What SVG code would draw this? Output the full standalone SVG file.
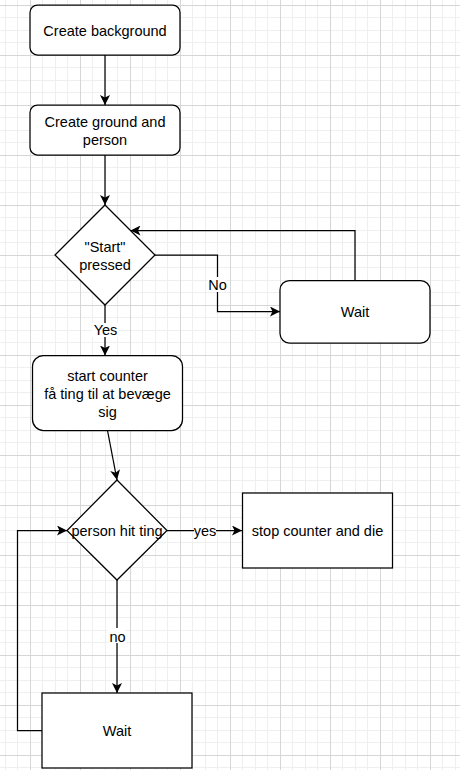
<svg xmlns="http://www.w3.org/2000/svg" width="460" height="770" viewBox="0 0 460 770">
  <defs>
    <pattern id="grid" patternUnits="userSpaceOnUse" x="30" y="5" width="50" height="50">
      <path d="M12.5 0V50M25.5 0V50M37.5 0V50M0 12.5H50M0 25.5H50M0 37.5H50" stroke="#efefef" stroke-width="1" fill="none"/>
      <path d="M0.5 0V50M0 0.5H50" stroke="#d6d6d6" stroke-width="1" fill="none"/>
    </pattern>
    <marker id="arr" markerUnits="userSpaceOnUse" viewBox="0 0 10 10" refX="10" refY="5" markerWidth="10" markerHeight="10" orient="auto">
      <path d="M0 0L10 5L0 10L2.5 5Z" fill="#000"/>
    </marker>
  </defs>
  <style>
    .shape { fill: #fff; stroke: #000; stroke-width: 1.25; }
    .edge { fill: none; stroke: #000; stroke-width: 1.25; marker-end: url(#arr); }
    text { font-family: "Liberation Sans", Arial, sans-serif; font-size: 14.5px; fill: #000; text-anchor: middle; }
    .lblbg { fill: #fff; }
  </style>
  <rect x="0" y="0" width="460" height="770" fill="#fff"/>
  <rect x="0" y="0" width="460" height="770" fill="url(#grid)"/>

  <g id="connectors">
    <path class="edge" d="M105 55V105"/>
    <path class="edge" d="M105 155V205"/>
    <path class="edge" d="M155 255H217.5V311.5H280"/>
    <path class="edge" d="M355 280.5V230.5H130.5"/>
    <path class="edge" d="M105 305V355.5"/>
    <path class="edge" d="M107.5 430.5L117 480"/>
    <path class="edge" d="M167 530.5H242"/>
    <path class="edge" d="M117 580V693"/>
    <path class="edge" d="M42 730.5H17.5V530.5H67"/>
    <g id="edge-labels">
      <rect class="lblbg" x="208" y="277" width="19" height="15"/>
      <text x="217.5" y="289.5">No</text>
      <rect class="lblbg" x="92" y="323" width="26" height="14"/>
      <text x="105.5" y="335">Yes</text>
      <rect class="lblbg" x="194" y="524" width="22" height="14"/>
      <text x="205" y="535.5">yes</text>
      <rect class="lblbg" x="108" y="628" width="18" height="15"/>
      <text x="117.5" y="641.5">no</text>
    </g>
  </g>

  <g id="create-background">
    <rect class="shape" x="30" y="5" width="150" height="50" rx="7.5"/>
    <text x="105" y="35.5">Create background</text>
  </g>
  <g id="create-ground">
    <rect class="shape" x="30" y="105" width="150" height="50" rx="7.5"/>
    <text x="105" y="127">Create ground and</text>
    <text x="105" y="145">person</text>
  </g>
  <g id="start-pressed">
    <polygon class="shape" points="105,205 155,255 105,305 55,255"/>
    <text x="105" y="252">"Start"</text>
    <text x="105" y="270">pressed</text>
  </g>
  <g id="wait-1">
    <rect class="shape" x="280" y="280.5" width="150" height="62.5" rx="9.4"/>
    <text x="355" y="316.5">Wait</text>
  </g>
  <g id="start-counter">
    <rect class="shape" x="32.5" y="355.5" width="150" height="75" rx="11"/>
    <text x="107.5" y="380.5">start counter</text>
    <text x="107.5" y="398.5">få ting til at bevæge</text>
    <text x="107.5" y="416.5">sig</text>
  </g>
  <g id="person-hit-ting">
    <polygon class="shape" points="117,480 167,530.5 117,580 67,530.5"/>
    <text x="117" y="535.5">person hit ting</text>
  </g>
  <g id="stop-counter">
    <rect class="shape" x="242.5" y="493" width="150" height="75"/>
    <text x="317.5" y="535.5">stop counter and die</text>
  </g>
  <g id="wait-2">
    <rect class="shape" x="42" y="693" width="150" height="75"/>
    <text x="117" y="735.5">Wait</text>
  </g>
</svg>
